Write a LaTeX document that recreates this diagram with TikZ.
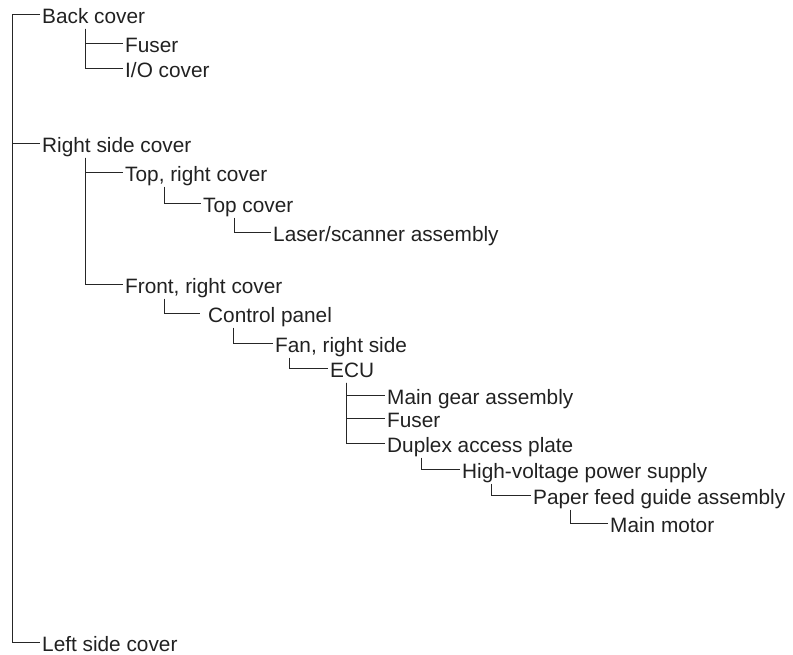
\documentclass[tikz,border=0pt]{standalone}
\usepackage{fontspec}
\setmainfont{Liberation Sans}
\begin{document}
\begin{tikzpicture}[x=1pt, y=-1pt,
	part/.style={anchor=west, inner xsep=2pt, inner ysep=0pt, text height=23.5pt, text depth=5.5pt, font=\fontsize{20.8}{24}\selectfont, text=black!87},
	link/.style={line width=1pt, draw=black!85}]
	\useasboundingbox (0,0) rectangle (793,654);

	% Top level
	\node[part] (backcover) at (40, 14){Back cover};
	\node[part] (rightside) at (40, 143){Right side cover};
	\node[part] (leftside) at (40, 642){Left side cover};

	\coordinate (trunk) at (12, 14);
	\draw[link] (backcover.west) -- (trunk) |- (leftside.west);
	\draw[link] (trunk |- rightside.west) -- (rightside.west);

	% Back cover
	\node[part] (fuserback) at (123, 43){Fuser};
	\node[part] (iocover) at (123, 68){I/O cover};

	\draw[link] ([xshift=45pt]backcover.south west) |- (fuserback.west);
	\draw[link] ([xshift=45pt]backcover.south west) |- (iocover.west);

	% Right side cover
	\node[part] (topright) at (123, 172){Top, right cover};
	\node[part] (topcover) at (201, 203){Top cover};
	\node[part] (laser) at (271, 232){Laser/scanner assembly};
	\node[part] (frontright) at (123, 284){Front, right cover};

	\draw[link] ([xshift=45pt]rightside.south west) |- (topright.west);
	\draw[link] ([xshift=45pt]rightside.south west) |- (frontright.west);
	\draw[link] ([xshift=41pt]topright.south west) |- (topcover.west);
	\draw[link] ([xshift=33pt]topcover.south west) |- (laser.west);

	% Front, right cover
	\node[part, inner xsep=8pt] (control) at (200, 313){Control panel};
	\node[part] (fan) at (273, 343){Fan, right side};
	\node[part] (ecu) at (328, 368){ECU};

	\draw[link] ([xshift=41pt]frontright.south west) |- (control.west);
	\draw[link] ([xshift=33pt]control.south west) |- (fan.west);
	\draw[link] ([xshift=16pt]fan.south west) |- (ecu.west);

	% ECU
	\node[part] (maingear) at (385, 395){Main gear assembly};
	\node[part] (fuserecu) at (385, 418){Fuser};
	\node[part] (duplex) at (385, 443){Duplex access plate};
	\node[part] (hvps) at (460, 469){High-voltage power supply};
	\node[part] (paperfeed) at (531, 495){Paper feed guide assembly};
	\node[part] (motor) at (608, 523){Main motor};

	\draw[link] ([xshift=18pt]ecu.south west) |- (maingear.west);
	\draw[link] ([xshift=18pt]ecu.south west) |- (fuserecu.west);
	\draw[link] ([xshift=18pt]ecu.south west) |- (duplex.west);
	\draw[link] ([xshift=36pt]duplex.south west) |- (hvps.west);
	\draw[link] ([xshift=31pt]hvps.south west) |- (paperfeed.west);
	\draw[link] ([xshift=39pt]paperfeed.south west) |- (motor.west);
\end{tikzpicture}
\end{document}
